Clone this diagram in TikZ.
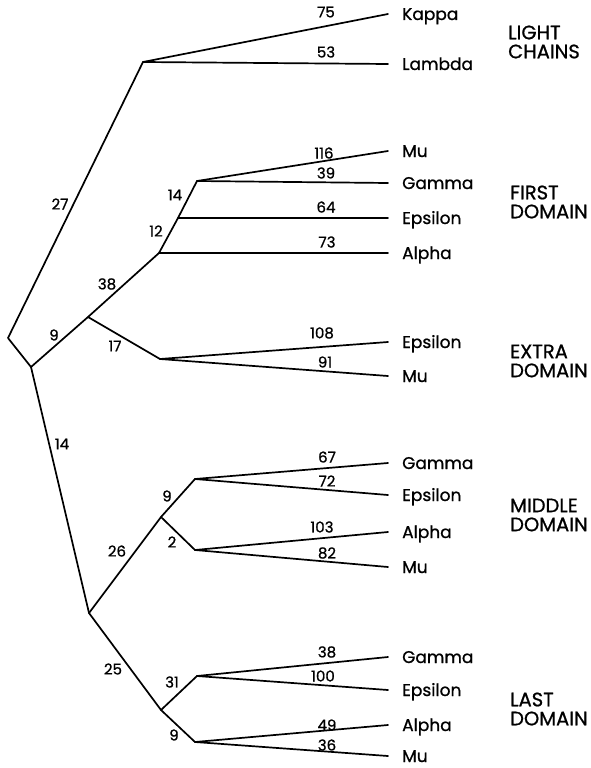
\documentclass[tikz,border=0pt]{standalone}
\usepackage{fontspec}
\setmainfont{Poppins}[FakeBold=0.9]
\begin{document}
\begin{tikzpicture}[x=1pt,y=-1pt,
  br/.style={line width=1.7pt,line join=round,line cap=round},
  leaf/.style={anchor=west,inner xsep=14pt,inner ysep=0pt,font=\fontsize{17}{19}\selectfont,text height=12pt,text depth=0pt},
  num/.style={inner sep=0pt,font=\fontsize{15}{16}\selectfont},
  grp/.style={anchor=west,inner sep=0pt,align=left,font=\fontsize{19.5}{19}\selectfont}]
\useasboundingbox (0,0) rectangle (590,768);
% internal points
\coordinate (A) at (8,338);
\coordinate (B) at (31,367);
\coordinate (L) at (143,62);
\coordinate (C) at (88,317);
\coordinate (D) at (159,253);
\coordinate (F) at (178,218);
\coordinate (G) at (197,181);
\coordinate (E) at (160,359);
\coordinate (H) at (89,613);
\coordinate (I) at (161,517);
\coordinate (J) at (195,479);
\coordinate (K) at (195,550);
\coordinate (M) at (161,710);
\coordinate (N) at (197,676);
\coordinate (O) at (195,742);
% leaves
\node[leaf] (kappa) at (388,14) {Kappa};
\node[leaf] (lambda) at (388,64) {Lambda};
\node[leaf] (mu1) at (388,151) {Mu};
\node[leaf] (gamma1) at (388,183) {Gamma};
\node[leaf] (eps1) at (388,218) {Epsilon};
\node[leaf] (alpha1) at (388,253) {Alpha};
\node[leaf] (eps2) at (388,342) {Epsilon};
\node[leaf] (mu2) at (388,376) {Mu};
\node[leaf] (gamma3) at (388,463) {Gamma};
\node[leaf] (eps3) at (388,495) {Epsilon};
\node[leaf] (alpha3) at (388,532) {Alpha};
\node[leaf] (mu3) at (388,567) {Mu};
\node[leaf] (gamma4) at (388,657) {Gamma};
\node[leaf] (eps4) at (388,690) {Epsilon};
\node[leaf] (alpha4) at (388,725) {Alpha};
\node[leaf] (mu4) at (388,756) {Mu};
% tree
\draw[br] (L) -- (A) -- (B) -- (H);
\draw[br] (B) -- (C) -- (D) -- (F) -- (G);
\draw[br] (C) -- (E);
\draw[br] (H) -- (I) -- (J);
\draw[br] (I) -- (K);
\draw[br] (H) -- (M) -- (N);
\draw[br] (M) -- (O);
\draw[br] (L) -- (kappa.west);
\draw[br] (L) -- (lambda.west);
\draw[br] (G) -- (mu1.west);
\draw[br] (G) -- (gamma1.west);
\draw[br] (F) -- (eps1.west);
\draw[br] (D) -- (alpha1.west);
\draw[br] (E) -- (eps2.west);
\draw[br] (E) -- (mu2.west);
\draw[br] (J) -- (gamma3.west);
\draw[br] (J) -- (eps3.west);
\draw[br] (K) -- (alpha3.west);
\draw[br] (K) -- (mu3.west);
\draw[br] (N) -- (gamma4.west);
\draw[br] (N) -- (eps4.west);
\draw[br] (O) -- (alpha4.west);
\draw[br] (O) -- (mu4.west);
% branch numbers
\node[num] (n27) at (60,204) {27};
\node[num] (n9a) at (54,335) {9};
\node[num] (n38) at (107,284) {38};
\node[num] (n17) at (115,346) {17};
\node[num] (n14a) at (62,444) {14};
\node[num] (n12) at (156,231) {12};
\node[num] (n14b) at (175,195) {14};
\node[num] (n26) at (117,551) {26};
\node[num] (n9b) at (167,496) {9};
\node[num] (n2) at (172,542) {2};
\node[num] (n25) at (113,669) {25};
\node[num] (n31) at (172,682) {31};
\node[num] (n9c) at (174,735) {9};
% leaf edge numbers
\node[num] (n75) at (326,12) {75};
\node[num] (n53) at (326,52) {53};
\node[num] (n116) at (324,153) {116};
\node[num] (n39) at (326,173) {39};
\node[num] (n64) at (326,207) {64};
\node[num] (n73) at (327,242) {73};
\node[num] (n108) at (322,333) {108};
\node[num] (n91) at (325,362) {91};
\node[num] (n67) at (327,457) {67};
\node[num] (n72) at (327,481) {72};
\node[num] (n103) at (322,527) {103};
\node[num] (n82) at (327,553) {82};
\node[num] (n38b) at (327,652) {38};
\node[num] (n100) at (323,676) {100};
\node[num] (n49) at (327,725) {49};
\node[num] (n36) at (327,745) {36};
% group labels
\node[grp] (g1) at (508,42) {LIGHT\\CHAINS};
\node[grp] (g2) at (510,202) {FIRST\\DOMAIN};
\node[grp] (g3) at (510,361) {EXTRA\\DOMAIN};
\node[grp] (g4) at (510,515) {MIDDLE\\DOMAIN};
\node[grp] (g5) at (510,709) {LAST\\DOMAIN};
\end{tikzpicture}
\end{document}
